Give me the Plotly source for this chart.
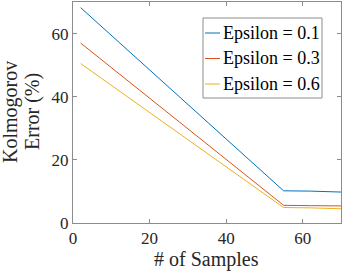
import plotly.graph_objects as go

samples = [2, 55, 62, 70]
eps_01 = [68.2, 10.2, 10.1, 9.8]
eps_03 = [57.0, 5.6, 5.5, 5.4]
eps_06 = [50.5, 4.9, 4.8, 4.5]
names = ["Epsilon = 0.1", "Epsilon = 0.3", "Epsilon = 0.6"]
colors = ["#0072BD", "#D95319", "#EDB120"]
x_title = "# of Samples"
y_title_lines = ["Kolmogorov", "Error (%)"]

W, H = 342, 274
ML, MR, MT, MB = 73, 1, 2, 51
PW, PH = W - ML - MR, H - MT - MB


def px(x):
    return (x - ML) / PW


def py(y):
    return (H - MB - y) / PH


fig = go.Figure()
for ys, nm, c in zip([eps_01, eps_03, eps_06], names, colors):
    fig.add_trace(go.Scatter(x=samples, y=ys, mode="lines", name=nm,
                             line=dict(color=c, width=1), showlegend=False))

font = "Liberation Serif"
axis_common = dict(showline=True, linecolor="#8c8c8c", linewidth=1, mirror="ticks",
                   ticks="inside", ticklen=4, tickcolor="#8c8c8c", showgrid=False,
                   zeroline=False, automargin=False,
                   tickfont=dict(family=font, size=17, color="#262626"))

# custom MATLAB-style legend
shapes = [dict(type="rect", xref="paper", yref="paper", x0=px(203), x1=px(322),
               y0=py(98), y1=py(18), line=dict(color="#8c8c8c", width=1),
               fillcolor="white", layer="above")]
annotations = []
for i, (nm, c) in enumerate(zip(names, colors)):
    yc = 33 + i * 25.5
    shapes.append(dict(type="line", xref="paper", yref="paper", x0=px(205), x1=px(220),
                       y0=py(yc), y1=py(yc), line=dict(color=c, width=1), layer="above"))
    annotations.append(dict(text=nm, xref="paper", yref="paper", x=px(221), y=py(yc),
                            xanchor="left", yanchor="middle", showarrow=False,
                            font=dict(family=font, size=18, color="#000000")))

annotations.append(dict(text=x_title, xref="paper", yref="paper", x=px(206), y=py(259),
                        xanchor="center", yanchor="middle", showarrow=False,
                        font=dict(family=font, size=20, color="#262626")))
for xc, line in zip([10, 32], y_title_lines):
    annotations.append(dict(text=line, xref="paper", yref="paper", x=px(xc), y=py(112),
                            xanchor="center", yanchor="middle", showarrow=False, textangle=-90,
                            font=dict(family=font, size=20, color="#262626")))

fig.update_layout(
    width=W, height=H,
    margin=dict(l=ML, r=MR, t=MT, b=MB),
    plot_bgcolor="white", paper_bgcolor="white",
    font=dict(family=font),
    xaxis=dict(range=[0, 70], tickvals=[0, 20, 40, 60], **axis_common),
    yaxis=dict(range=[0, 70], tickvals=[0, 20, 40, 60], **axis_common),
    shapes=shapes, annotations=annotations,
    showlegend=False,
)
fig.write_html("out.html", config={"displayModeBar": False},
               post_script="document.body.style.margin='0px';document.body.style.overflow='hidden';")
